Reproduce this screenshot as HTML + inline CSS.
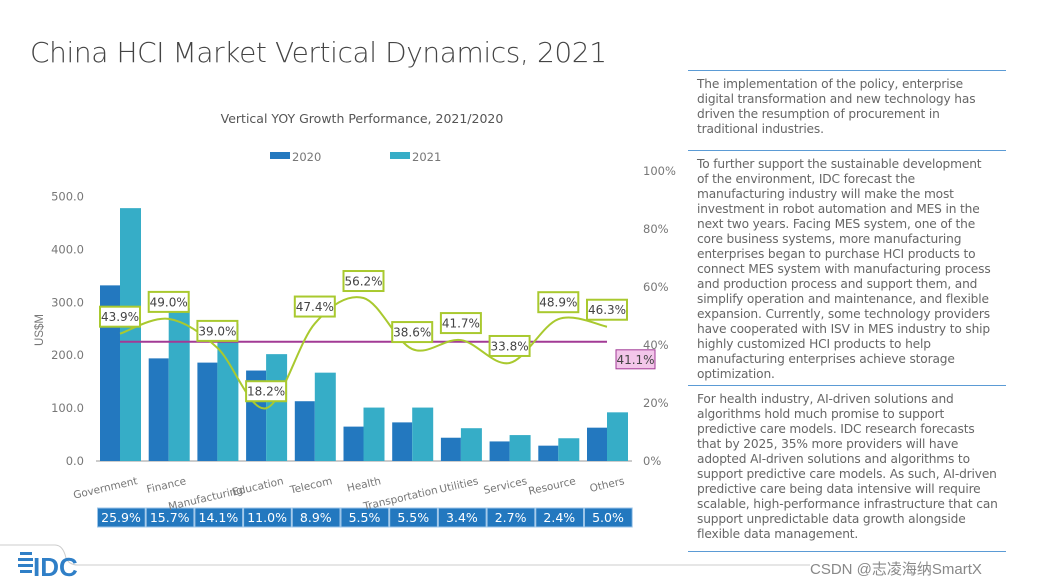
<!DOCTYPE html>
<html><head><meta charset="utf-8"><style>
body{margin:0;width:1038px;height:585px;background:#fff;font-family:"DejaVu Sans","Liberation Sans",sans-serif;overflow:hidden;position:relative}
#title{position:absolute;left:30px;top:36px;font-size:28px;color:#444;font-weight:300;font-family:"DejaVu Sans",sans-serif;letter-spacing:-0.4px}
.panel{position:absolute;left:688px;width:318px;border-top:1.5px solid #5b9bd5}
.panel p{margin:0;padding:6px 0 0 9px;font-size:12.2px;line-height:15px;color:#666;white-space:nowrap;letter-spacing:-0.15px}
</style></head><body>
<div id="title">China HCI Market Vertical Dynamics, 2021</div>
<div class="panel" style="top:70px"><p>The implementation of the policy, enterprise<br>digital transformation and new technology has<br>driven the resumption of procurement in<br>traditional industries.</p></div>
<div class="panel" style="top:150px"><p>To further support the sustainable development<br>of the environment, IDC forecast the<br>manufacturing industry will make the most<br>investment in robot automation and MES in the<br>next two years. Facing MES system, one of the<br>core business systems, more manufacturing<br>enterprises began to purchase HCI products to<br>connect MES system with manufacturing process<br>and production process and support them, and<br>simplify operation and maintenance, and flexible<br>expansion. Currently, some technology providers<br>have cooperated with ISV in MES industry to ship<br>highly customized HCI products to help<br>manufacturing enterprises achieve storage<br>optimization.</p></div>
<div class="panel" style="top:385px"><p>For health industry, AI-driven solutions and<br>algorithms hold much promise to support<br>predictive care models. IDC research forecasts<br>that by 2025, 35% more providers will have<br>adopted AI-driven solutions and algorithms to<br>support predictive care models. As such, AI-driven<br>predictive care being data intensive will require<br>scalable, high-performance infrastructure that can<br>support unpredictable data growth alongside<br>flexible data management.</p></div>
<div class="panel" style="top:551px;height:0"></div>
<svg width="1038" height="585" style="position:absolute;left:0;top:0" id="chart">
<path d="M0 545 H55 Q63 545 66 558 Q69 565 78 565 H810" fill="none" stroke="#ccc" stroke-width="1"/>
<g>
<rect x="20" y="552" width="12" height="3" fill="#2f7fc7"/><rect x="18" y="558" width="15" height="3" fill="#2f7fc7"/><rect x="18" y="564" width="15" height="3" fill="#2f7fc7"/><rect x="20" y="570" width="12" height="3" fill="#2f7fc7"/>
<text x="33" y="576" font-size="26" font-family="Liberation Sans Narrow, Liberation Sans" font-weight="bold" fill="#2f7fc7">IDC</text></g>
<text x="810" y="574" font-size="15" fill="#888" font-family="Liberation Sans, Noto Sans CJK SC, sans-serif">CSDN @志凌海纳SmartX</text>
</svg>
<script>
const categories=["Government","Finance","Manufacturing","Education","Telecom","Health","Transportation","Utilities","Services","Resource","Others"];
const v2020=[332,194,186,171,113,65,73,44,37,29,63];
const v2021=[478,289,259,202,167,101,101,62,49,43,92];
const growth=[43.9,49.0,39.0,18.2,47.4,56.2,38.6,41.7,33.8,48.9,46.3];
const share=["25.9%","15.7%","14.1%","11.0%","8.9%","5.5%","5.5%","3.4%","2.7%","2.4%","5.0%"];
const avgGrowth=41.1;
const leftTicks=[0,100,200,300,400,500];
const rightTicks=[0,20,40,60,80,100];
const NS="http://www.w3.org/2000/svg",svg=document.getElementById('chart');
const y0=461,yL=v=>y0-v*0.529,yR=p=>y0-p*2.9,gx=i=>100+48.7*i;
function mk(t,a,p){const e=document.createElementNS(NS,t);for(const k in a)e.setAttribute(k,a[k]);(p||svg).appendChild(e);return e}
function tx(x,y,s,a){const e=mk('text',Object.assign({x,y,'font-size':11,fill:'#777'},a));e.textContent=s;return e}
let t=tx(362,123,"Vertical YOY Growth Performance, 2021/2020",{'text-anchor':'middle','font-size':12.5,fill:'#555'});


let r=mk('rect',{x:270,y:152,width:20,height:7,fill:'#2378bf'});


tx(292,161,"2020",{'font-size':11.5});
r=mk('rect',{x:390,y:152,width:20,height:7,fill:'#36adc7'});


tx(412,161,"2021",{'font-size':11.5});
leftTicks.forEach(v=>{tx(84,yL(v)+4,v.toFixed(1),{'text-anchor':'end','font-size':11.5})});
rightTicks.forEach(v=>{tx(643,yR(v)+4,v+"%",{'font-size':11.5})});
t=tx(0,0,"US$M",{transform:'translate(43,330) rotate(-90)','text-anchor':'middle','font-size':11.5,'font-family':'Liberation Sans'});


mk('line',{x1:96,x2:632,y1:y0,y2:y0,stroke:'#999'});
categories.forEach((c,i)=>{
 const x=gx(i);
 let b=mk('rect',{x:x,y:yL(v2020[i]),width:20,height:v2020[i]*0.529,fill:'#2378bf'});
 
 
 b=mk('rect',{x:x+20,y:yL(v2021[i]),width:21,height:v2021[i]*0.529,fill:'#36adc7'});
 
 
 const low=(i==2||i==6);
 const l=tx(0,0,c,{transform:`translate(${x+(low?46:38)},${low?493:484}) rotate(-13)`,'text-anchor':'end','font-size':10.5});
 
 
 const s=mk('rect',{x:x-3+0.5,y:508,width:47.7,height:19,fill:'#2378bf',stroke:'#9cc5e8','stroke-width':1});
 
 
 tx(x+21,522,share[i],{'text-anchor':'middle',fill:'#fff','font-size':12.5});
});
const avg=mk('line',{x1:gx(0)+20,x2:gx(10)+20,y1:yR(avgGrowth),y2:yR(avgGrowth),stroke:'#a23a95','stroke-width':2});


const pts=growth.map((g,i)=>[gx(i)+20,yR(g)]);
let d=`M${pts[0][0]},${pts[0][1]}`;
for(let i=0;i<pts.length-1;i++){const p0=pts[Math.max(0,i-1)],p1=pts[i],p2=pts[i+1],p3=pts[Math.min(pts.length-1,i+2)];
 d+=` C${p1[0]+(p2[0]-p0[0])/6},${p1[1]+(p2[1]-p0[1])/6} ${p2[0]-(p3[0]-p1[0])/6},${p2[1]-(p3[1]-p1[1])/6} ${p2[0]},${p2[1]}`;}
const ln=mk('path',{d,fill:'none',stroke:'#a9c92f','stroke-width':2});


growth.forEach((g,i)=>{
 const [x,y]=pts[i];
 const b=mk('rect',{x:x-20,y:y-27,width:40,height:20,fill:'#fff',stroke:'#a9c92f','stroke-width':2});
 
 
 tx(x,y-12.5,g.toFixed(1)+"%",{'text-anchor':'middle',fill:'#444','font-size':12});
});
const ab=mk('rect',{x:616,y:yR(avgGrowth)+8,width:39,height:19,fill:'#f3c6ea',stroke:'#a23a95','stroke-width':1});


tx(635.5,yR(avgGrowth)+22,avgGrowth.toFixed(1)+"%",{'text-anchor':'middle',fill:'#444','font-size':12});
</script>
</body></html>
